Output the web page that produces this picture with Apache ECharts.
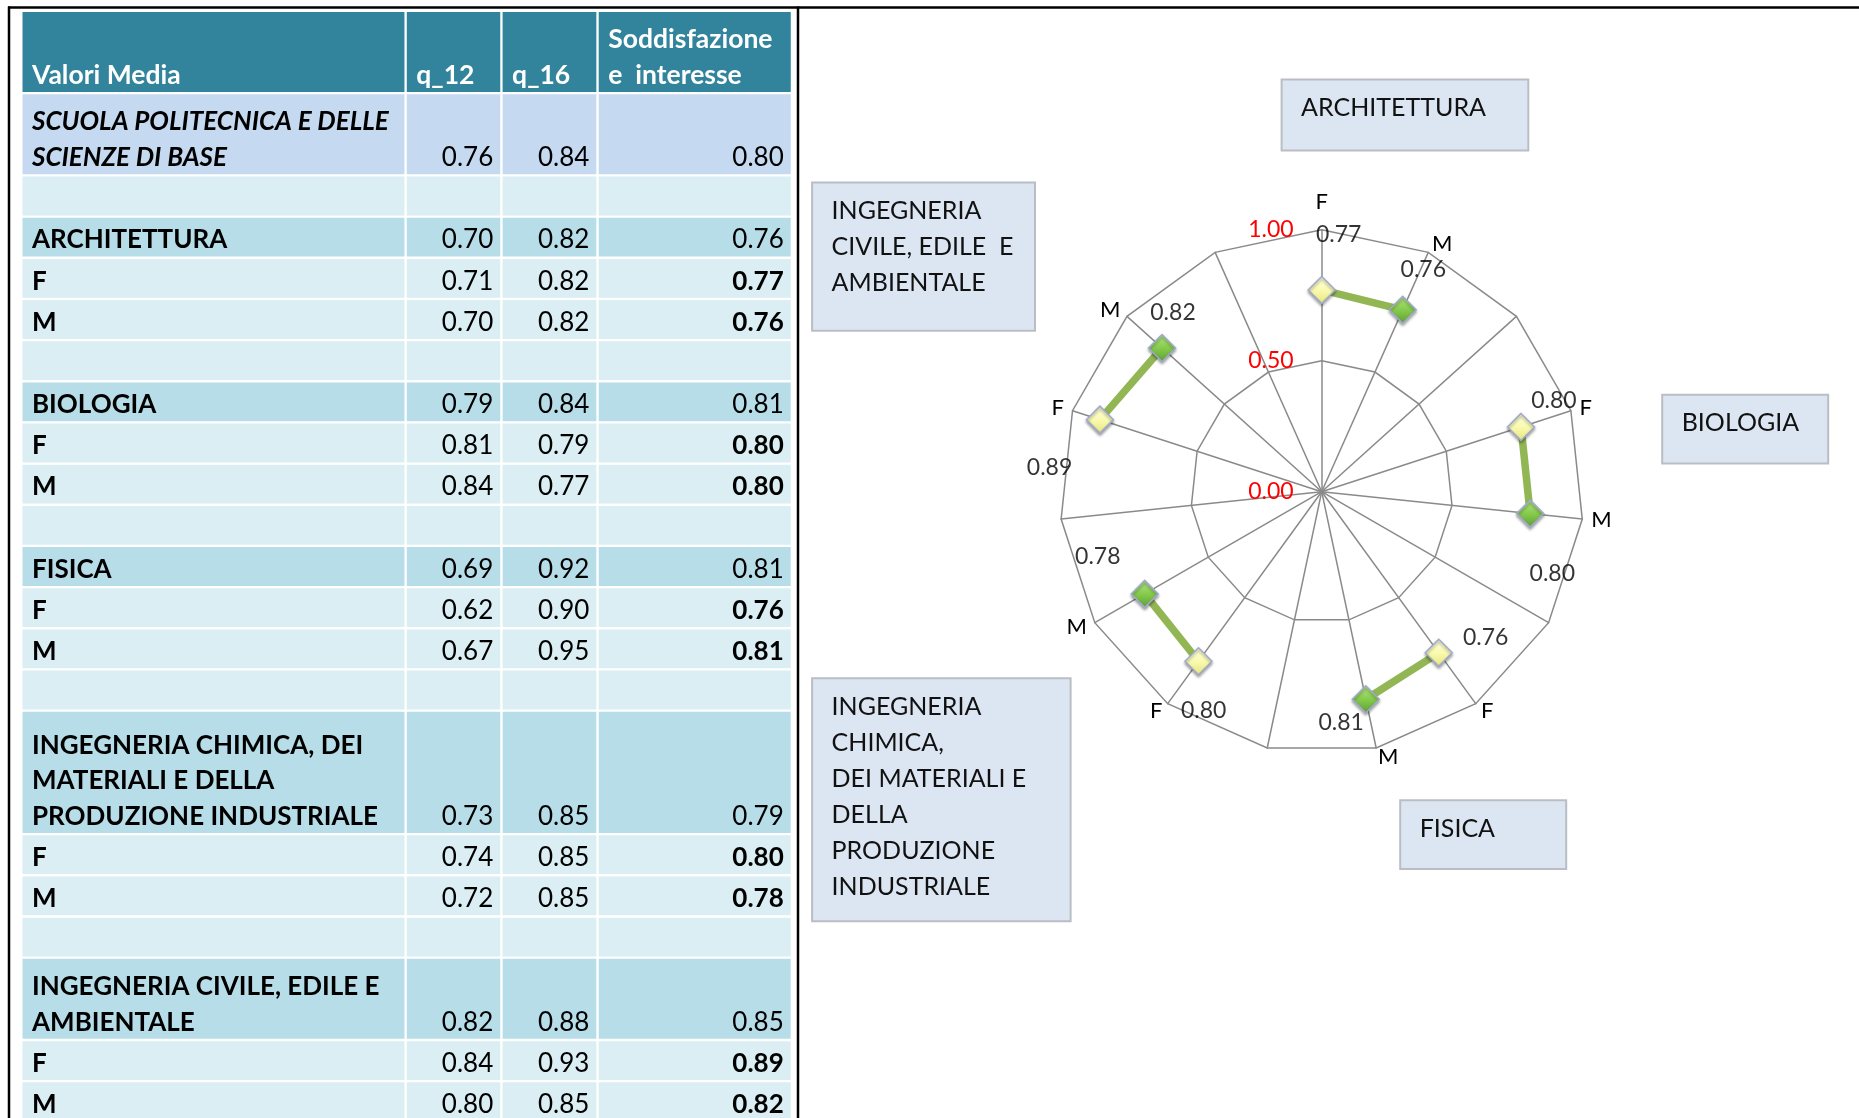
<!DOCTYPE html>
<html><head><meta charset="utf-8">
<script src="https://cdn.jsdelivr.net/npm/echarts@6/dist/echarts.min.js"></script>
<style>html,body{margin:0;padding:0;background:#fff}#c{width:1859px;height:1118px}</style>
</head><body><div id="c"></div>
<script>
// ================= DATA =================
// Table rows
const rowLabels = [
  'Valori Media',
  'SCUOLA POLITECNICA E DELLE\nSCIENZE DI BASE',
  '',
  'ARCHITETTURA', 'F', 'M', '',
  'BIOLOGIA', 'F', 'M', '',
  'FISICA', 'F', 'M', '',
  'INGEGNERIA CHIMICA, DEI\nMATERIALI E DELLA\nPRODUZIONE INDUSTRIALE', 'F', 'M', '',
  'INGEGNERIA CIVILE, EDILE E\nAMBIENTALE', 'F', 'M'
];
const rowKinds = [
  'header', 'school', 'blank',
  'group', 'sub', 'sub', 'blank',
  'group', 'sub', 'sub', 'blank',
  'group', 'sub', 'sub', 'blank',
  'group', 'sub', 'sub', 'blank',
  'group', 'sub', 'sub'
];
const rowLines = [2, 2, 1, 1, 1, 1, 1, 1, 1, 1, 1, 1, 1, 1, 1, 3, 1, 1, 1, 2, 1, 1];
const headerCols = ['q_12', 'q_16', 'Soddisfazione\ne  interesse'];
const q12 = [null, 0.76, null, 0.70, 0.71, 0.70, null, 0.79, 0.81, 0.84, null, 0.69, 0.62, 0.67, null, 0.73, 0.74, 0.72, null, 0.82, 0.84, 0.80];
const q16 = [null, 0.84, null, 0.82, 0.82, 0.82, null, 0.84, 0.79, 0.77, null, 0.92, 0.90, 0.95, null, 0.85, 0.85, 0.85, null, 0.88, 0.93, 0.85];
const soddisfazione = [null, 0.80, null, 0.76, 0.77, 0.76, null, 0.81, 0.80, 0.80, null, 0.81, 0.76, 0.81, null, 0.79, 0.80, 0.78, null, 0.85, 0.89, 0.82];

// Radar
const radarGroups = ['ARCHITETTURA', 'BIOLOGIA', 'FISICA',
  'INGEGNERIA\nCHIMICA,\nDEI MATERIALI E\nDELLA\nPRODUZIONE\nINDUSTRIALE',
  'INGEGNERIA\nCIVILE, EDILE  E\nAMBIENTALE'];
const radarSexes = ['F', 'M'];
const radarF = [0.77, 0.80, 0.76, 0.80, 0.89];
const radarM = [0.76, 0.80, 0.81, 0.78, 0.82];
const radarTicks = [0, 0.5, 1];

// ================= LAYOUT / STYLE =================
const FONT = 'Lato';
const H = 1118;
const T = { left: 22.5, top: 11.9, unit: 41.17, gap: 2.35 };
const colEdges = [0, 384.3, 480.1, 576.2, 770.6];
const rowStarts = [];
rowLines.reduce((acc, n, i) => { rowStarts[i] = acc; return acc + n; }, 0);
const visibleUnits = (H - T.top) / T.unit;   // the last row is cut by the page edge
const fills = { header: '#31849B', school: '#C5D9F1', group: '#B7DEE8', sub: '#DAEEF3', blank: '#DAEEF3' };

const CX = 1321.7, CY = 491.7, R = 262;
// label offsets (px) for value labels, per group [F, M]
const valueLabelOffsets = [
  [[17, 5], [-5, 17]],
  [[-17, -10], [-30, 54]],
  [[10, -66], [-35, -25]],
  [[36, 7], [3, -66]],
  [[-23, 57], [46, -4]]
];
// annotation boxes: [x, y, w, h]
const boxRects = [
  [1281.6, 79.4, 246.7, 71.2],
  [1662.2, 394.8, 166, 68.8],
  [1400.2, 800.3, 166, 68.7],
  [812.1, 678.2, 258.5, 243],
  [812.1, 182.6, 222.9, 148.2]
];

// ================= TABLE (custom series) =================
const cellData = [];
for (let r = 0; r < rowLabels.length; r++) for (let c = 0; c < 4; c++) cellData.push([c, r]);
const valueCols = [q12, q16, soddisfazione];

function renderCell(params, api) {
  const c = api.value(0), r = api.value(1);
  const p0 = api.coord([colEdges[c], rowStarts[r]]);
  const p1 = api.coord([colEdges[c + 1], rowStarts[r] + rowLines[r]]);
  const x = p0[0], y = p0[1];
  const w = p1[0] - p0[0] - T.gap, h = p1[1] - p0[1] - T.gap;
  const kind = rowKinds[r];
  const children = [{ type: 'rect', shape: { x, y, width: w, height: h }, style: { fill: fills[kind] } }];
  let text = '', align = 'left', bold = false, italic = false, color = '#000';
  if (kind === 'header') {
    text = c === 0 ? rowLabels[r] : headerCols[c - 1]; bold = true; color = '#fff';
  } else if (kind !== 'blank') {
    if (c === 0) { text = rowLabels[r]; bold = true; italic = kind === 'school'; }
    else {
      const v = valueCols[c - 1][r];
      text = v == null ? '' : v.toFixed(2);
      align = 'right';
      bold = kind === 'sub' && c === 3;
    }
  }
  if (text) {
    children.push({
      type: 'text',
      style: {
        text, x: align === 'left' ? x + 9.5 : x + w - 7, y: y + h + 1.2,
        align, verticalAlign: 'bottom', textAlign: align, textVerticalAlign: 'bottom',
        lineHeight: 35.6, fontSize: kind === 'header' ? 26.5 : 26, fontFamily: FONT,
        fontWeight: bold ? 'bold' : 'normal', fontStyle: italic ? 'italic' : 'normal',
        fill: color
      }
    });
  }
  return { type: 'group', children };
}

// ================= RADAR =================
const spokeNames = [];
radarGroups.forEach(() => { radarSexes.forEach(s => spokeNames.push(s)); spokeNames.push(''); });
const nSpokes = spokeNames.length;
// ECharts radar lays indicators counter-clockwise; reorder so they read clockwise
const indicatorOrder = [0];
for (let i = nSpokes - 1; i >= 1; i--) indicatorOrder.push(i);
const indicators = indicatorOrder.map((s, k) => {
  const ind = { name: spokeNames[s], min: 0, max: 1, nameGap: k === 0 ? 17 : 9 };
  if (k === 0) ind.axisLabel = {
    show: true, color: '#FF0000', fontSize: 23, fontFamily: FONT, margin: 28,
    formatter: v => Number(v).toFixed(2)
  };
  return ind;
});

const gradF = { type: 'linear', x: 0, y: 0, x2: 0, y2: 1, colorStops: [
  { offset: 0, color: '#FFFFE4' }, { offset: 0.5, color: '#FAFAB0' }, { offset: 1, color: '#E6E67C' }] };
const gradM = { type: 'linear', x: 0, y: 0, x2: 0, y2: 1, colorStops: [
  { offset: 0, color: '#B8E68C' }, { offset: 0.5, color: '#86CB4C' }, { offset: 1, color: '#5E9F32' }] };
const markerBase = { borderColor: '#9EABCB', borderWidth: 1.5, shadowBlur: 3, shadowColor: 'rgba(0,0,0,0.35)', shadowOffsetY: 2 };

const lineSeries = radarGroups.map((g, gi) => ({
  type: 'line', coordinateSystem: 'polar', name: g, z: 5,
  symbol: 'diamond', symbolSize: 27,
  lineStyle: { color: '#93B655', width: 7.5 },
  data: [
    { value: [radarF[gi], gi * 3], itemStyle: Object.assign({ color: gradF }, markerBase) },
    { value: [radarM[gi], gi * 3 + 1], itemStyle: Object.assign({ color: gradM }, markerBase) }
  ],
  silent: true, animation: false
}));

const labelData = [];
radarGroups.forEach((g, gi) => {
  [radarF[gi], radarM[gi]].forEach((v, si) => {
    labelData.push({
      value: [radarTicks[radarTicks.length - 1], gi * 3 + si],
      label: { formatter: v.toFixed(2), offset: valueLabelOffsets[gi][si] }
    });
  });
});

// ================= GRAPHIC (frame + annotation boxes) =================
const graphics = [
  { type: 'line', shape: { x1: 8, y1: 7.5, x2: 1859, y2: 7.5 }, style: { stroke: '#000', lineWidth: 2.5 }, z: 10 },
  { type: 'line', shape: { x1: 9, y1: 6.5, x2: 9, y2: H }, style: { stroke: '#000', lineWidth: 2.5 }, z: 10 },
  { type: 'line', shape: { x1: 798, y1: 6.5, x2: 798, y2: H }, style: { stroke: '#000', lineWidth: 2.5 }, z: 10 }
];
radarGroups.forEach((g, i) => {
  const b = boxRects[i];
  graphics.push({
    type: 'group', children: [
      { type: 'rect', shape: { x: b[0], y: b[1], width: b[2], height: b[3] }, style: { fill: '#DCE6F2', stroke: '#BABEC4', lineWidth: 2 } },
      { type: 'text', style: { text: g, x: b[0] + 19.5, y: b[1] + 10.5, fontSize: 25, fontFamily: FONT, lineHeight: 36,
        fill: '#111', align: 'left', verticalAlign: 'top', textAlign: 'left', textVerticalAlign: 'top' } }
    ]
  });
});

const chart = echarts.init(document.getElementById('c'), null, { renderer: 'canvas' });
chart.setOption({
  backgroundColor: '#fff',
  animation: false,
  textStyle: { fontFamily: FONT },
  grid: { left: T.left, top: T.top, width: colEdges[colEdges.length - 1], bottom: 0, containLabel: false },
  xAxis: { type: 'value', min: 0, max: colEdges[colEdges.length - 1], show: false },
  yAxis: { type: 'value', min: 0, max: visibleUnits, inverse: true, show: false },
  radar: {
    center: [CX, CY], radius: R, startAngle: 90, splitNumber: 2, shape: 'polygon',
    indicator: indicators,
    axisName: { color: '#000', fontSize: 22, fontFamily: FONT },
    splitLine: { lineStyle: { color: '#8A8A8A', width: 1.5 } },
    splitArea: { show: false },
    axisLine: { lineStyle: { color: '#8A8A8A', width: 1.5 } },
    axisTick: { show: false },
    axisLabel: { show: false }
  },
  polar: { center: [CX, CY], radius: R },
  angleAxis: { type: 'value', min: 0, max: nSpokes, startAngle: 90, clockwise: true, show: false },
  radiusAxis: { type: 'value', min: radarTicks[0], max: radarTicks[radarTicks.length - 1], show: false },
  graphic: graphics,
  series: [
    { type: 'custom', coordinateSystem: 'cartesian2d', renderItem: renderCell, data: cellData, silent: true, animation: false, clip: true },
    ...lineSeries,
    {
      type: 'scatter', coordinateSystem: 'polar', symbolSize: 1, itemStyle: { color: 'rgba(0,0,0,0)' }, z: 6,
      label: { show: true, position: 'inside', color: '#000', fontSize: 23, fontFamily: FONT },
      data: labelData, silent: true
    }
  ]
});
</script>
</body></html>
